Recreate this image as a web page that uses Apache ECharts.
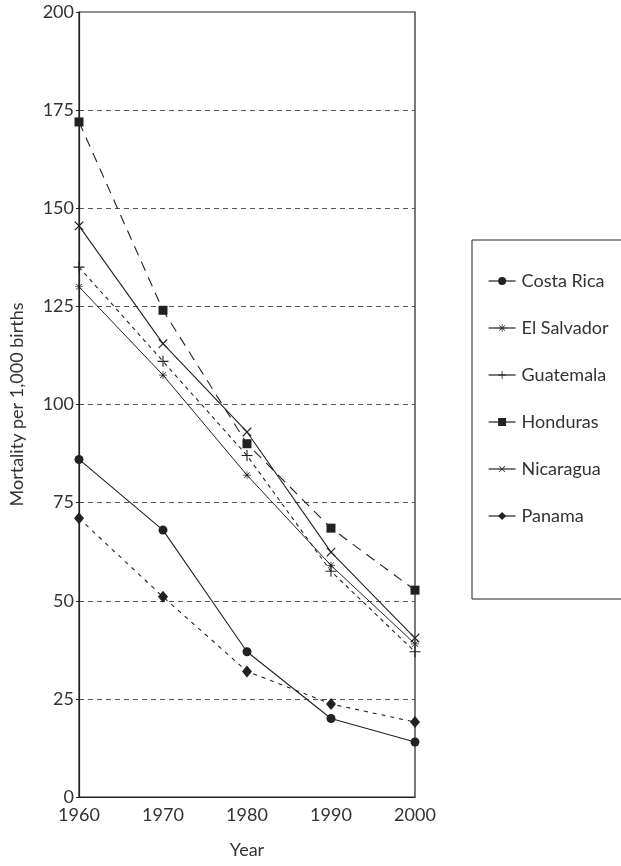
<!DOCTYPE html>
<html>
<head>
<meta charset="utf-8">
<script src="https://cdn.jsdelivr.net/npm/echarts@6/dist/echarts.min.js"></script>
<style>
  html, body { margin: 0; padding: 0; background: #fff; }
  #chart { width: 621px; height: 866px; }
</style>
</head>
<body>
<div id="chart"></div>
<script>
// Infant mortality per 1,000 births, Central America, 1960–2000
const years = [1960, 1970, 1980, 1990, 2000];
const yTicks = [0, 25, 50, 75, 100, 125, 150, 175, 200];
const costaRica  = [86, 68, 37, 20, 14];
const elSalvador = [130, 107.5, 82, 59, 39];
const guatemala  = [135, 111, 87, 57.5, 37];
const honduras   = [172, 124, 90, 68.5, 52.7];
const nicaragua  = [145.5, 115.5, 93, 62.4, 40.5];
const panama     = [71, 51, 32, 23.7, 19.1];

// Stroke-like marker shapes built from thin filled bars
const PLUS = 'path://M-0.6,-6H0.6V-0.6H6V0.6H0.6V6H-0.6V0.6H-6V-0.6H-0.6Z';
const STAR = 'path://M-0.5,-6H0.5V-0.5H6V0.5H0.5V6H-0.5V0.5H-6V-0.5H-0.5Z' +
             'M-4.6,-3.9L3.9,4.6L4.6,3.9L-3.9,-4.6Z M3.9,-4.6L-4.6,3.9L-3.9,4.6L4.6,-3.9Z';

const INK = '#222';
const TXT = '#333';
const FONT = 'Lato, "Open Sans", sans-serif';
const FS = 18;

function mk(name, vals, lineType, symbol, size, rotate, width) {
  return {
    name: name,
    type: 'line',
    data: years.map((y, i) => [y, vals[i]]),
    symbol: symbol,
    symbolSize: size,
    symbolRotate: rotate || 0,
    showAllSymbol: true,
    lineStyle: { color: INK, width: width || 1.1, type: lineType },
    itemStyle: { color: INK, borderWidth: 0 },
    emphasis: { disabled: true },
    z: 3
  };
}

const chart = echarts.init(document.getElementById('chart'), null, { renderer: 'canvas' });
chart.setOption({
  animation: false,
  backgroundColor: '#fff',
  textStyle: { fontFamily: FONT },
  grid: { left: 79, top: 12, right: 206, bottom: 69, show: true, borderColor: INK, borderWidth: 1.2 },
  legend: {
    orient: 'vertical',
    left: 472,
    top: 240,
    padding: [32, 30, 74, 16],
    itemGap: 29,
    itemWidth: 27,
    itemHeight: 10,
    borderColor: INK,
    borderWidth: 1,
    textStyle: { color: TXT, fontSize: FS, fontFamily: FONT, padding: [0, 0, 0, 1] },
    lineStyle: { type: 'solid', width: 1.2 },
    data: ['Costa Rica', 'El Salvador', 'Guatemala', 'Honduras', 'Nicaragua', 'Panama']
  },
  xAxis: {
    type: 'value',
    min: 1960, max: 2000, interval: 10,
    name: 'Year',
    nameLocation: 'middle',
    nameGap: 44,
    nameTextStyle: { color: TXT, fontSize: FS, fontFamily: FONT },
    axisLine: { lineStyle: { color: INK, width: 1.2 } },
    axisTick: { show: false },
    splitLine: { show: false },
    axisLabel: { color: TXT, fontSize: FS, fontFamily: FONT, margin: 9, formatter: v => String(v) }
  },
  yAxis: {
    type: 'value',
    min: yTicks[0], max: yTicks[yTicks.length - 1], interval: 25,
    name: 'Mortality per 1,000 births',
    nameLocation: 'middle',
    nameGap: 53,
    nameTextStyle: { color: TXT, fontSize: FS, fontFamily: FONT },
    axisLine: { show: true, lineStyle: { color: INK, width: 1.2 } },
    axisTick: { show: true, length: 3, lineStyle: { color: INK } },
    axisLabel: { color: TXT, fontSize: FS, fontFamily: FONT, margin: 5, showMinLabel: true, showMaxLabel: true },
    splitLine: {
      show: true,
      lineStyle: { color: '#555', width: 1, type: [5, 4] },
      // no grid lines at the frame edges
      showMinLine: false, showMaxLine: false
    }
  },
  series: [
    mk('Costa Rica', costaRica, 'solid', 'circle', 9),
    mk('El Salvador', elSalvador, 'solid', STAR, 8, 0, 1),
    mk('Guatemala', guatemala, [4, 4], PLUS, 11),
    mk('Honduras', honduras, [10, 7], 'rect', 9),
    mk('Nicaragua', nicaragua, 'solid', PLUS, 12, 45),
    mk('Panama', panama, [4, 5], 'diamond', [10, 12], 0)
  ]
});
</script>
</body>
</html>
